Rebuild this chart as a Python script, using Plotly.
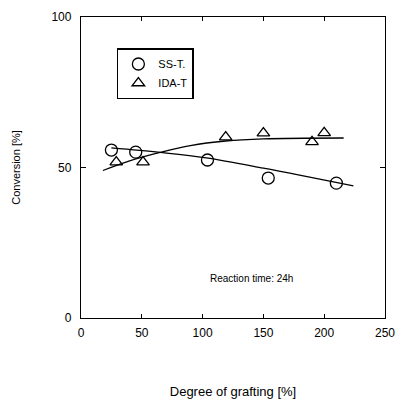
import plotly.graph_objects as go

# Data
ss_x = [25, 45, 104, 154, 210]
ss_y = [55.8, 55.1, 52.5, 46.5, 44.8]
ida_x = [29, 51, 119, 150, 190, 200]
ida_y = [51.8, 51.8, 60.1, 61.4, 58.5, 61.5]

# Hand-drawn trend curves
ss_fit_x = [25, 65, 103, 150, 224]
ss_fit_y = [56.5, 55.0, 53.2, 49.8, 43.9]
ida_fit_x = [18, 40, 65, 90, 119, 150, 216]
ida_fit_y = [49.0, 52.2, 55.0, 57.3, 58.8, 59.5, 59.8]

x_ticks = [0, 50, 100, 150, 200, 250]
y_ticks = [0, 50, 100]

FONT = "Liberation Sans, Arial, sans-serif"

fig = go.Figure()
fig.add_trace(go.Scatter(x=ss_fit_x, y=ss_fit_y, mode="lines", line=dict(color="black", width=1.3, shape="spline"),
                         showlegend=False, hoverinfo="skip"))
fig.add_trace(go.Scatter(x=ida_fit_x, y=ida_fit_y, mode="lines", line=dict(color="black", width=1.3, shape="spline"),
                         showlegend=False, hoverinfo="skip"))
fig.add_trace(go.Scatter(x=ss_x, y=ss_y, mode="markers", name="SS-T.",
                         marker=dict(symbol="circle-open", size=12, color="black", line=dict(width=1.3))))
fig.add_trace(go.Scatter(x=ida_x, y=ida_y, mode="markers", name="IDA-T",
                         marker=dict(symbol="triangle-up-open", size=11, color="black", line=dict(width=1.3))))

fig.add_annotation(x=140, y=13, text="Reaction time: 24h", showarrow=False,
                   font=dict(family=FONT, size=10, color="black"), xanchor="center", yanchor="middle")

fig.update_layout(
    width=400, height=399,
    margin=dict(l=81, r=15, t=17, b=81),
    paper_bgcolor="white", plot_bgcolor="white",
    font=dict(family=FONT, size=12, color="black"),
    showlegend=True,
    legend=dict(x=0.118, y=0.897, xanchor="left", yanchor="top",
                bordercolor="black", borderwidth=1.5, bgcolor="white",
                font=dict(family=FONT, size=11), itemwidth=30, tracegroupgap=2),
    xaxis=dict(range=[0, 250], tickvals=x_ticks, ticktext=[str(v) for v in x_ticks],
               showgrid=False, zeroline=False, showline=True, linecolor="black", linewidth=1.3,
               mirror="ticks", ticks="inside", ticklen=4, tickcolor="black", automargin=False,
               ticklabelstandoff=3, tickfont=dict(family=FONT, size=12),
               title=dict(text="Degree of grafting [%]", font=dict(family=FONT, size=13), standoff=50)),
    yaxis=dict(range=[0, 100], tickvals=y_ticks, ticktext=[str(v) for v in y_ticks],
               showgrid=False, zeroline=False, showline=True, linecolor="black", linewidth=1.3,
               mirror="ticks", ticks="inside", ticklen=5, tickcolor="black", automargin=False,
               ticklabelstandoff=6, tickfont=dict(family=FONT, size=12),
               title=dict(text="Conversion [%]", font=dict(family=FONT, size=11), standoff=28)),
)

fig.write_html("out.html", config={"displayModeBar": False},
               post_script="document.body.style.margin='0px';")
